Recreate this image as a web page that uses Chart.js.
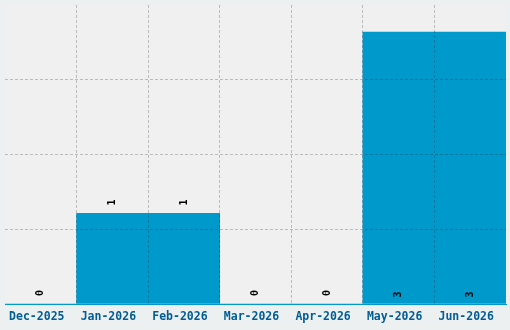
<!DOCTYPE html>
<html>
<head>
<meta charset="utf-8">
<script src="https://cdn.jsdelivr.net/npm/chart.js@4/dist/chart.umd.min.js"></script>
<style>
  html, body { margin: 0; padding: 0; background: #edf0f1; }
  #wrap { width: 510px; height: 330px; }
</style>
</head>
<body>
<div id="wrap"><canvas id="chart" width="510" height="330"></canvas></div>
<script>
"use strict";

// data
let months = ["Dec-2025", "Jan-2026", "Feb-2026", "Mar-2026", "Apr-2026", "May-2026", "Jun-2026"];
let counts = [0, 1, 1, 0, 0, 3, 3];
let yMax = 3.3;
let yTicks = [0, 0.825, 1.65, 2.475, 3.3];

let gridColor = "rgba(0,0,0,0.22)";
let monoFont = "'DejaVu Sans Mono', 'Liberation Mono', monospace";

// plot area background
let plotBg = {
  id: "plotBg",
  beforeDraw(chart) {
    let a = chart.chartArea;
    let ctx = chart.ctx;
    ctx.save();
    ctx.fillStyle = "#f0f0f0";
    ctx.fillRect(a.left, a.top, a.right - a.left, a.bottom - a.top);
    ctx.restore();
  }
};

// rotated value labels, above the bar, or inside at the bottom when the bar is tall
let valueLabels = {
  id: "valueLabels",
  afterDraw(chart) {
    let ctx = chart.ctx;
    let meta = chart.getDatasetMeta(0);
    let area = chart.chartArea;
    ctx.save();
    ctx.font = "bold 10px " + monoFont;
    ctx.fillStyle = "#000";
    ctx.textAlign = "center";
    ctx.textBaseline = "middle";
    meta.data.forEach(function (bar, i) {
      let v = counts[i];
      let y = bar.y - 11;
      if (bar.y - 40 < area.top) {
        y = bar.base - 9;
      }
      ctx.save();
      ctx.translate(bar.x, y);
      ctx.rotate(-Math.PI / 2);
      ctx.fillText(String(v), 0, 0);
      ctx.restore();
    });
    ctx.restore();
  }
};

let ctx = document.getElementById("chart");
let chart = new Chart(ctx, {
  type: "bar",
  data: {
    labels: months,
    datasets: [
      {
        label: "count",
        data: counts,
        backgroundColor: "#0099cc",
        borderWidth: 0,
        barPercentage: 1,
        categoryPercentage: 1
      }
    ]
  },
  options: {
    responsive: false,
    animation: false,
    layout: { padding: { left: 5, right: 4, top: 5, bottom: 0 } },
    plugins: {
      legend: { display: false },
      tooltip: { enabled: false }
    },
    scales: {
      x: {
        grid: {
          offset: true,
          z: 1,
          drawTicks: false,
          lineWidth: 1,
          color: function (c) {
            if (c.type !== "tick" || c.index === 0) return "transparent";
            return gridColor;
          }
        },
        border: { display: true, color: "#0099cc", width: 1, dash: [3, 2], z: 1 },
        ticks: {
          color: "#005c94",
          padding: 6,
          labelOffset: -4,
          maxRotation: 0,
          autoSkip: false,
          font: { family: monoFont, weight: "bold", size: 11.5 }
        },
        afterFit: function (scale) { scale.height = 26; }
      },
      y: {
        min: 0,
        max: yMax,
        afterBuildTicks: function (scale) {
          scale.ticks = yTicks.map(function (v) { return { value: v }; });
        },
        grid: {
          z: 1,
          drawTicks: false,
          color: function (c) {
            if (c.type !== "tick") return "transparent";
            let v = c.tick.value;
            if (v <= 0 || v >= yMax) return "transparent";
            return gridColor;
          }
        },
        border: { display: false, dash: [3, 2], z: 1 },
        ticks: { display: false },
        afterFit: function (scale) { scale.width = 0; }
      }
    }
  },
  plugins: [plotBg, valueLabels]
});
</script>
</body>
</html>
